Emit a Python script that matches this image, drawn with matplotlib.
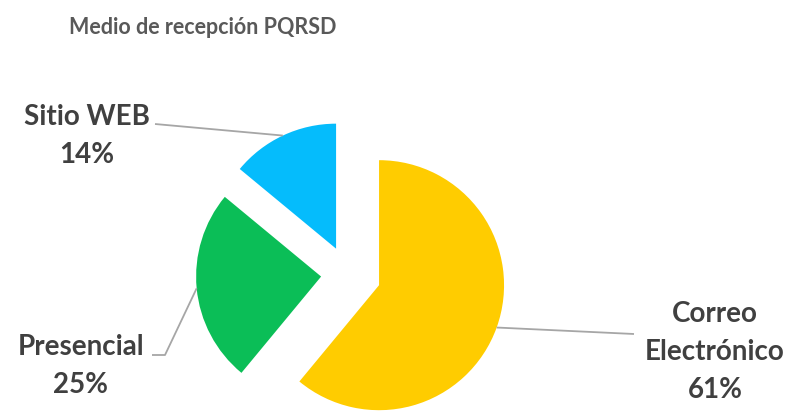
import numpy as np
import matplotlib
matplotlib.use("Agg")
import matplotlib.pyplot as plt

# data
categories = ["Correo\nElectrónico", "Presencial", "Sitio WEB"]
shares = [61, 25, 14]
colors = ["#FFCC00", "#0BBE57", "#05BCFC"]
explode_px = [33, 27, 28]

W, H = 793, 412
fig = plt.figure(figsize=(W / 100, H / 100), dpi=100)
ax = fig.add_axes([0, 0, 1, 1])
ax.axis("off")

wedges, _ = ax.pie(shares, colors=colors, startangle=90, counterclock=False,
                   center=(348, H - 274), radius=125, explode=explode_px,
                   wedgeprops=dict(linewidth=0))
ax.set_xlim(0, W)
ax.set_ylim(0, H)
ax.set_aspect("equal")

txt_color = "#404040"
line_color = "#A6A6A6"
font = dict(family="Lato", weight="bold", fontsize=20, color=txt_color)

# label centre and leader line points near the text
label_pos = [(715, H - 352), (81, H - 366), (87, H - 136)]
leader_end = [[(634, H - 334)], [(165, H - 355), (152, H - 355)], [(155, H - 124)]]

for w, cat, val, pos, ends in zip(wedges, categories, shares, label_pos, leader_end):
    mid = np.deg2rad((w.theta1 + w.theta2) / 2)
    cx, cy = w.center
    sx = cx + w.r * np.cos(mid)
    sy = cy + w.r * np.sin(mid)
    xs = [sx] + [p[0] for p in ends]
    ys = [sy] + [p[1] for p in ends]
    ax.plot(xs, ys, color=line_color, lw=1.3, solid_capstyle="butt")
    ax.text(pos[0], pos[1], f"{cat}\n{val}%", ha="center", va="center",
            linespacing=1.55, **font)

ax.text(203, H - 27, "Medio de recepción PQRSD", ha="center", va="center",
        family="Lato", weight="bold", fontsize=15.5, color="#595959")

fig.savefig("out.png", dpi=100)
